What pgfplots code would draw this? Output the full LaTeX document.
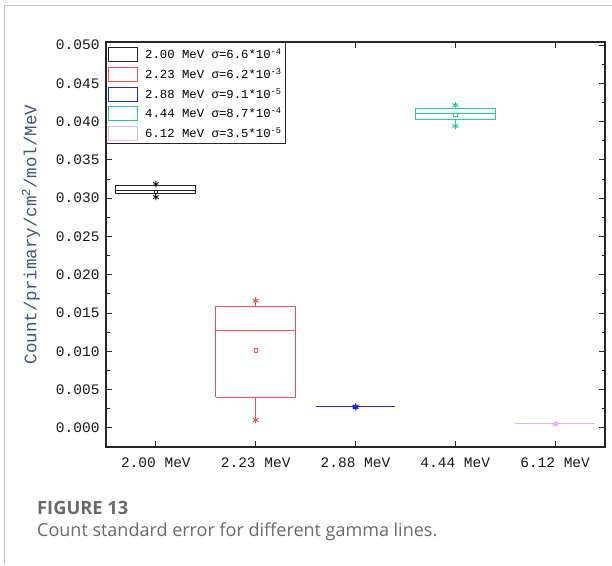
\documentclass[border=0pt]{standalone}
\usepackage{pgfplots}
\pgfplotsset{compat=1.18}
\usepackage{fontspec}
\newfontfamily\mono{Liberation Mono}
\newfontfamily\capfont{Open Sans}
\definecolor{cblack}{HTML}{222222}
\definecolor{cred}{HTML}{FF4A4A}
\definecolor{cblue}{HTML}{2222FF}
\definecolor{cgreen}{HTML}{1FD18F}
\definecolor{cpurple}{HTML}{E2B4F8}
\definecolor{ylab}{HTML}{44557A}
\definecolor{capgray}{HTML}{6A6A6A}
\begin{document}
\begin{tikzpicture}
\path[use as bounding box] (0pt,0pt) rectangle (612pt,565pt);
\draw[color=black!22, line width=1pt] (4pt,0pt) -- (4pt,559pt) -- (612pt,559pt);
\node[anchor=base west, font=\capfont\bfseries\fontsize{18.3}{20}\selectfont, text=capgray, inner sep=0pt] at (37pt,51pt) {FIGURE 13};
\node[anchor=base west, font=\capfont\fontsize{18}{20}\selectfont, text=capgray, inner sep=0pt] at (37pt,29pt) {Count standard error for different gamma lines.};
\begin{axis}[
  at={(106pt,118pt)}, anchor=south west,
  scale only axis, width=499pt, height=405pt,
  xmin=-0.5, xmax=4.5, ymin=-0.0025, ymax=0.0504,
  axis line style={color=black!85, line width=1.1pt},
  xtick={0,1,2,3,4},
  xticklabels={2.00 MeV,2.23 MeV,2.88 MeV,4.44 MeV,6.12 MeV},
  ytick={0,0.005,0.01,0.015,0.02,0.025,0.03,0.035,0.04,0.045,0.05},
  minor ytick={0.0025,0.0075,0.0125,0.0175,0.0225,0.0275,0.0325,0.0375,0.0425,0.0475},
  scaled y ticks=false,
  yticklabel style={xshift=-3pt, /pgf/number format/.cd, fixed, fixed zerofill, precision=3, assume math mode=true},
  xticklabel style={yshift=-7pt},
  tick label style={font=\mono\fontsize{14.5}{15}\selectfont, text=black!90},
  tick align=inside,
  major tick length=6pt, minor tick length=3.5pt,
  every tick/.style={color=black!85, line width=1pt},
  ylabel={Count/primary/cm\textsuperscript{2}/mol/MeV},
  ylabel style={font=\mono\fontsize{17.5}{18}\selectfont, text=ylab, yshift=9pt, xshift=10pt},
]
% 2.00 MeV: box (q1,q3), median, whiskers, min/max stars, mean square
\addplot[cblack, line width=1pt] coordinates {(-0.4,0.03060) (0.4,0.03060) (0.4,0.03172) (-0.4,0.03172) (-0.4,0.03060)};
\addplot[cblack, line width=1pt] coordinates {(-0.4,0.03106) (0.4,0.03106)};
\addplot[cblack, line width=1pt] coordinates {(0,0.03172) (0,0.03184)};
\addplot[cblack, line width=1pt] coordinates {(0,0.03060) (0,0.03014)};
\addplot[cblack, only marks, mark=asterisk, mark size=3.2pt, mark options={line width=1pt}] coordinates {(0,0.03184) (0,0.03014)};
\addplot[cblack, only marks, mark=square, mark size=1.7pt, mark options={line width=0.9pt}] coordinates {(0,0.0308)};
% 2.23 MeV
\addplot[cred, line width=1pt] coordinates {(0.6,0.00400) (1.4,0.00400) (1.4,0.01583) (0.6,0.01583) (0.6,0.00400)};
\addplot[cred, line width=1pt] coordinates {(0.6,0.0127) (1.4,0.0127)};
\addplot[cred, line width=1pt] coordinates {(1,0.01583) (1,0.01661)};
\addplot[cred, line width=1pt] coordinates {(1,0.00400) (1,0.00104)};
\addplot[cred, only marks, mark=asterisk, mark size=3.2pt, mark options={line width=1pt}] coordinates {(1,0.01661) (1,0.00104)};
\addplot[cred, only marks, mark=square, mark size=1.7pt, mark options={line width=0.9pt}] coordinates {(1,0.01009)};
% 2.88 MeV
\addplot[cblue, line width=1pt] coordinates {(1.6,0.00274) (2.4,0.00274)};
\addplot[cblue, only marks, mark=asterisk, mark size=3.2pt, mark options={line width=1pt}] coordinates {(2,0.00278) (2,0.00270)};
\addplot[cblue, only marks, mark=square, mark size=1.7pt, mark options={line width=0.9pt}] coordinates {(2,0.00274)};
% 4.44 MeV
\addplot[cgreen, line width=1pt] coordinates {(2.6,0.04032) (3.4,0.04032) (3.4,0.04172) (2.6,0.04172) (2.6,0.04032)};
\addplot[cgreen, line width=1pt] coordinates {(2.6,0.04110) (3.4,0.04110)};
\addplot[cgreen, line width=1pt] coordinates {(3,0.04172) (3,0.04215)};
\addplot[cgreen, line width=1pt] coordinates {(3,0.04032) (3,0.03941)};
\addplot[cgreen, only marks, mark=asterisk, mark size=3.2pt, mark options={line width=1pt}] coordinates {(3,0.04215) (3,0.03941)};
\addplot[cgreen, only marks, mark=square, mark size=1.7pt, mark options={line width=0.9pt}] coordinates {(3,0.04091)};
% 6.12 MeV
\addplot[cpurple, line width=1pt] coordinates {(3.6,0.00052) (4.4,0.00052)};
\addplot[cpurple, only marks, mark=asterisk, mark size=2.5pt, mark options={line width=1pt}] coordinates {(4,0.00055) (4,0.00049)};
\addplot[cpurple, only marks, mark=square*, mark size=1.7pt] coordinates {(4,0.00052)};
\end{axis}
% legend (key)
\draw[black!85, line width=0.8pt, fill=white] (106pt,422pt) rectangle (285pt,523pt);
\draw[cblack, line width=1.1pt]  (108.5pt,503.5pt) rectangle (137.5pt,517.5pt);
\draw[cred, line width=1.1pt]    (108.5pt,483.5pt) rectangle (137.5pt,497.5pt);
\draw[cblue, line width=1.1pt]   (108.5pt,463.5pt) rectangle (137.5pt,477.5pt);
\draw[cgreen, line width=1.1pt]  (108.5pt,444.5pt) rectangle (137.5pt,458.5pt);
\draw[cpurple, line width=1.1pt] (108.5pt,424.5pt) rectangle (137.5pt,438.5pt);
\begin{scope}[every node/.style={anchor=base west, inner sep=0pt, font=\mono\fontsize{12.3}{13}\selectfont, text=black}]
\node at (145pt,506.2pt) {2.00 MeV σ=6.6*10\textsuperscript{-4}};
\node at (145pt,486.2pt) {2.23 MeV σ=6.2*10\textsuperscript{-3}};
\node at (145pt,466.2pt) {2.88 MeV σ=9.1*10\textsuperscript{-5}};
\node at (145pt,447.2pt) {4.44 MeV σ=8.7*10\textsuperscript{-4}};
\node at (145pt,427.2pt) {6.12 MeV σ=3.5*10\textsuperscript{-5}};
\end{scope}
\end{tikzpicture}
\end{document}
